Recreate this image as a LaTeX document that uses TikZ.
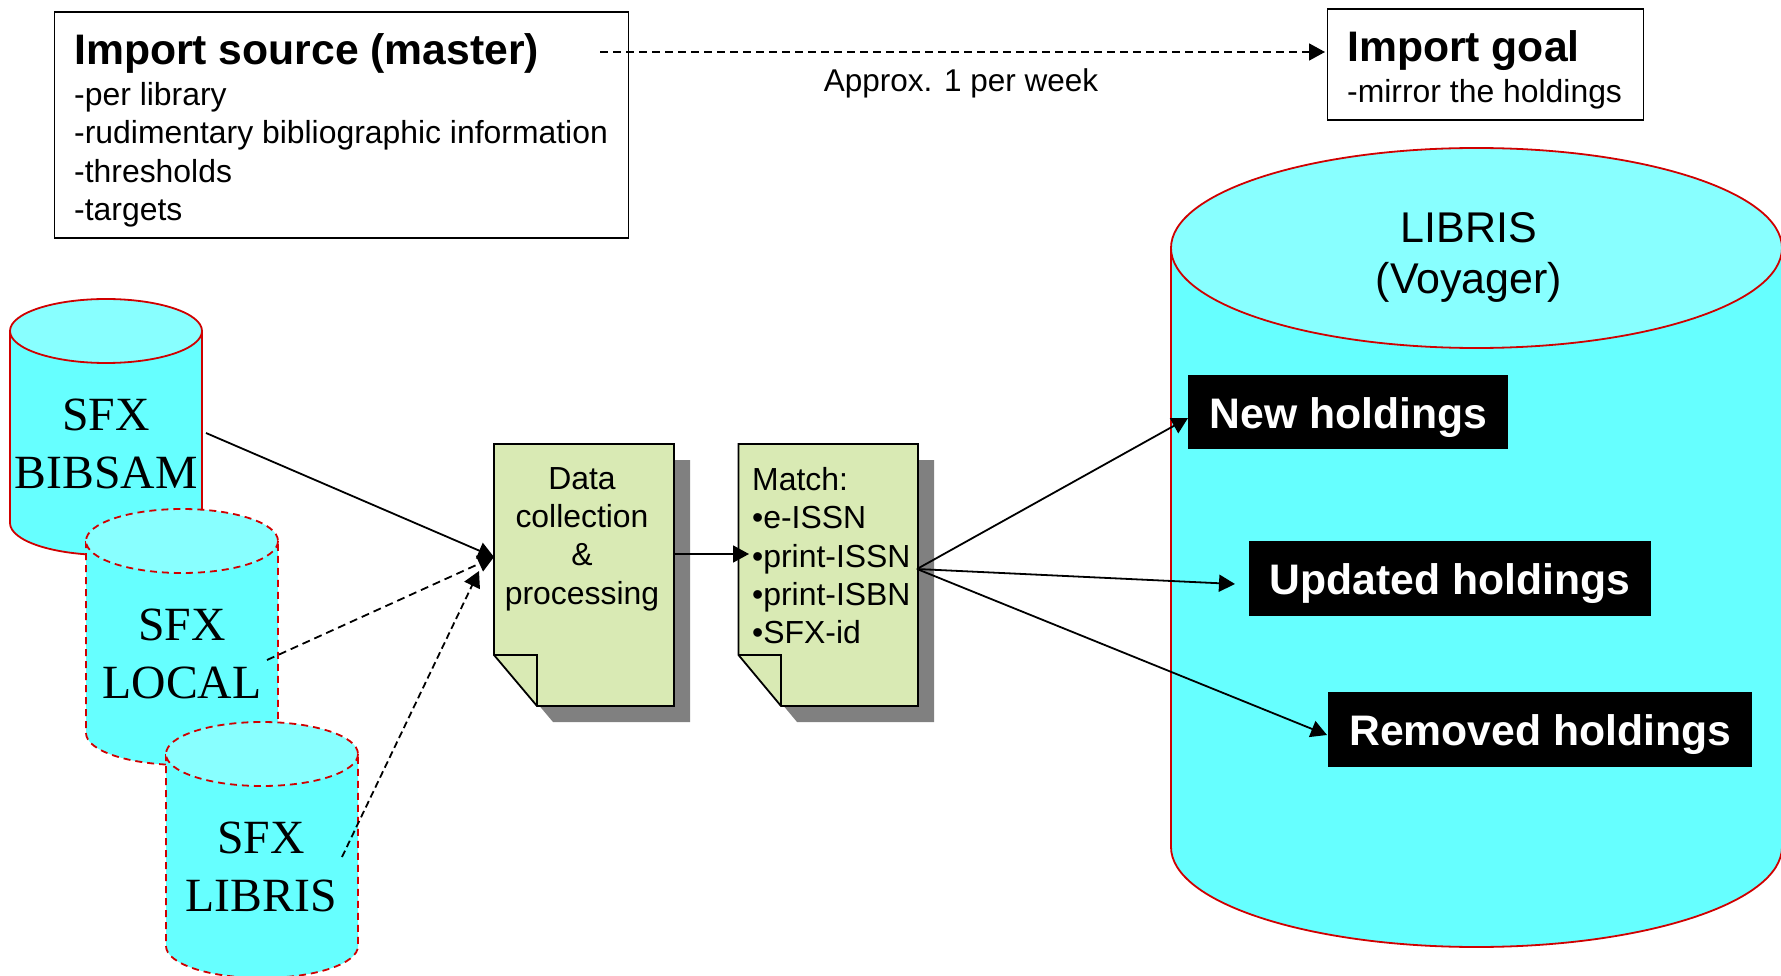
\documentclass[tikz,border=0pt]{standalone}
\usepackage{fontspec}
\setmainfont{Liberation Sans}
\newfontfamily\serifface{Liberation Serif}
\usetikzlibrary{arrows.meta}
\definecolor{cylbody}{HTML}{66FFFF}
\definecolor{cyltop}{HTML}{88FFFF}
\definecolor{cylline}{HTML}{D00000}
\definecolor{docfill}{HTML}{D9EAB4}
\definecolor{docshadow}{HTML}{808080}
% #1 style, #2 left x, #3 right x, #4 top-ellipse centre y, #5 bottom-ellipse centre y, #6 ry
\newcommand{\drawcyl}[6]{%
  \pgfmathsetmacro{\rxv}{(#3-#2)/2}%
  \pgfmathsetmacro{\cxv}{(#3+#2)/2}%
  \fill[cylbody] (#2,#4) -- (#2,#5) arc[start angle=180,end angle=360,x radius=\rxv,y radius=-#6] -- (#3,#4) -- cycle;
  \draw[cylline,#1] (#2,#4) -- (#2,#5) arc[start angle=180,end angle=360,x radius=\rxv,y radius=-#6] -- (#3,#4);
  \draw[cylline,#1,fill=cyltop] (\cxv,#4) ellipse[x radius=\rxv,y radius=#6];
}
% #1 left, #2 right, #3 top, #4 bottom, #5 fold y, #6 fold x
\newcommand{\drawdoc}[6]{%
  \fill[docshadow] (#1+16,#3+16) -- (#2+16,#3+16) -- (#2+16,#4+16) -- (#6+16,#4+16) -- (#1+16,#5+16) -- cycle;
  \draw[docline,fill=docfill] (#1,#3) -- (#2,#3) -- (#2,#4) -- (#6,#4) -- (#1,#5) -- cycle;
  \draw[docline] (#1,#5) -- (#6,#5) -- (#6,#4);
}
\tikzset{
  docline/.style={black,line width=1.8pt,line join=miter},
  solidcyl/.style={line width=1.8pt},
  dashcyl/.style={line width=1.8pt,dash pattern=on 7pt off 5pt},
  serifl/.style={font=\serifface\fontsize{47.7}{57.7}\selectfont,align=center,inner sep=0pt,text=black},
  doctext/.style={font=\fontsize{31.9}{38.4}\selectfont,inner sep=0pt,anchor=north},
  infobox/.style={draw=black,line width=1.8pt,anchor=north west,inner sep=0pt},
  infotitle/.style={font=\bfseries\fontsize{42.7}{46}\selectfont,inner sep=0pt,anchor=base west},
  infolist/.style={font=\fontsize{31.9}{38.6}\selectfont,inner sep=0pt,anchor=base west,align=left},
  blackbox/.style={fill=black,text=white,font=\bfseries\fontsize{42.7}{50}\selectfont,inner sep=0pt,anchor=north west,text height=53.5pt,text depth=21pt},
  conn/.style={black,line width=1.8pt,-{Triangle[length=16pt,width=17pt]}},
  dconn/.style={conn,dash pattern=on 8pt off 5pt},
  dotconn/.style={conn,dash pattern=on 7pt off 4pt},
}
\begin{document}
\begin{tikzpicture}[x=1pt,y=-1pt]
\useasboundingbox (0,0) rectangle (1781,976);
\fill[white] (0,0) rectangle (1781,976);

% big cylinder
\drawcyl{solidcyl}{1171}{1782}{248}{847}{100}
\node[font=\fontsize{43}{51}\selectfont,align=center,inner sep=0pt] (libris) at (1469,257) {LIBRIS\\(Voyager)};

% small cylinders
\drawcyl{solidcyl}{10}{202}{331}{523}{32}
\node[serifl] (bibsam) at (106,444) {SFX\\BIBSAM};
\drawcyl{dashcyl}{86}{278}{541}{733}{32}
\node[serifl] (local) at (182,654) {SFX\\LOCAL};
\drawcyl{dashcyl}{166}{358}{754}{946}{32}
\node[serifl] (sfxlibris) at (261,867) {SFX\\LIBRIS};

% documents
\drawdoc{494}{674}{444}{706}{655}{537}
\node[doctext,align=center] (data) at (582,467) {Data\\collection\\\&\\processing};
\drawdoc{738.5}{918}{444}{706}{655}{781}
\node[doctext,align=left,anchor=north west] (match) at (752,467) {Match:\\•e-ISSN\\•print-ISSN\\•print-ISBN\\•SFX-id};

% black labels
\node[blackbox,minimum width=320pt] (new) at (1188,374.5) {New holdings};
\node[blackbox,minimum width=402.5pt] (updated) at (1248.5,541) {Updated holdings};
\node[blackbox,minimum width=424pt] (removed) at (1328,692) {Removed holdings};

% top boxes
\node[infobox,minimum width=574pt,minimum height=226pt] (source) at (53.5,11.5) {};
\node[infotitle] (sourcetitle) at (74,65) {Import source (master)};
\node[infolist] (sourcelist) at (74,221) {-per library\\-rudimentary bibliographic information\\-thresholds\\-targets};
\node[infobox,minimum width=316pt,minimum height=111pt] (goal) at (1326.5,8) {};
\node[infotitle] (goaltitle) at (1347,62) {Import goal};
\node[infolist] (goallist) at (1347,103) {-mirror the holdings};
\node[font=\fontsize{31.5}{38}\selectfont,inner sep=0pt] (approx) at (961,83) {Approx. 1 per week};

% connector ends
\coordinate (aS) at (206,433);
\coordinate (aE) at (494,557);
\coordinate (bS) at (267,660);
\coordinate (cS) at (342,857);
\coordinate (cE) at (479,571);
\coordinate (dS) at (675,554);
\coordinate (dE) at (749,554);
\coordinate (hub) at (917,569);
\coordinate (nE) at (1188,418);
\coordinate (uE) at (1235,584);
\coordinate (rE) at (1327,735);
\coordinate (tS) at (600,52);
\coordinate (tE) at (1325,52);

\draw[conn] (aS) -- (aE);
\draw[dconn] (bS) -- (aE);
\draw[dotconn] (cS) -- (cE);
\draw[conn] (dS) -- (dE);
\draw[conn] (hub) -- (nE);
\draw[conn] (hub) -- (uE);
\draw[conn] (hub) -- (rE);
\draw[dconn] (tS) -- (tE);
\end{tikzpicture}
\end{document}
